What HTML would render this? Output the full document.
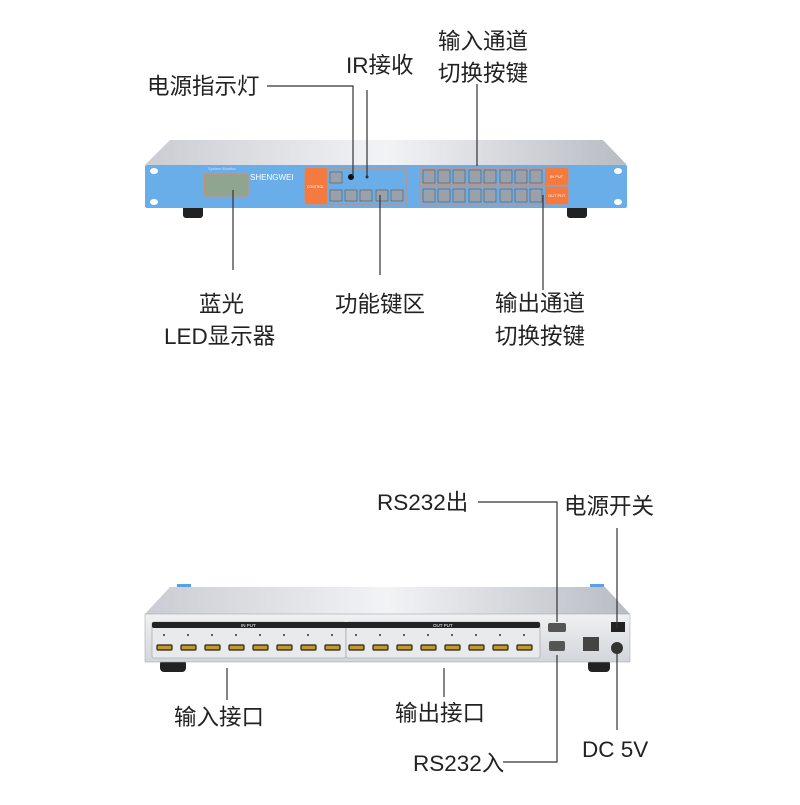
<!DOCTYPE html><html><head><meta charset="utf-8"><style>
html,body{margin:0;padding:0;background:#fff}
svg text{font-family:"Liberation Sans","Noto Sans CJK SC",sans-serif;fill:#222}
</style></head><body>
<svg width="800" height="800" viewBox="0 0 800 800" xmlns="http://www.w3.org/2000/svg">
<defs>
<linearGradient id="top" x1="0" y1="0" x2="1" y2="0"><stop offset="0" stop-color="#c9ccd2"/><stop offset="0.5" stop-color="#f2f3f5"/><stop offset="1" stop-color="#b8bcc3"/></linearGradient>
<linearGradient id="back" x1="0" y1="0" x2="0" y2="1"><stop offset="0" stop-color="#f0f1f3"/><stop offset="1" stop-color="#d2d5da"/></linearGradient>
</defs>
<!-- FRONT -->
<polygon points="170,140 603,140 627,165 145,165" fill="url(#top)"/>
<rect x="183" y="205" width="20" height="13" rx="3" fill="#222"/>
<rect x="567" y="205" width="20" height="13" rx="3" fill="#222"/>
<rect x="145" y="165" width="482" height="43" rx="2" fill="#6aaee9"/>
<ellipse cx="154" cy="171" rx="4" ry="3" fill="#fff"/><ellipse cx="154" cy="202" rx="4" ry="3" fill="#fff"/>
<ellipse cx="618" cy="171" rx="4" ry="3" fill="#fff"/><ellipse cx="618" cy="202" rx="4" ry="3" fill="#fff"/>
<text x="208" y="170" font-size="4" style="fill:#dde">System Monitor</text>
<rect x="204" y="174" width="44" height="22" rx="2" fill="#8fa590" stroke="#e8875a" stroke-width="1"/>
<text x="250" y="180" font-size="8" style="fill:#fff">SHENGWEI</text>
<rect x="305" y="168" width="102" height="36" rx="3" fill="none" stroke="#e8875a"/>
<rect x="305" y="168" width="22" height="36" rx="2" fill="#f57a3f"/>
<text x="307" y="188" font-size="3.5" style="fill:#fff">CONTROL</text>
<g fill="#9aa1aa" stroke="#555" stroke-width="0.6">
<rect x="330" y="172" width="12" height="11"/>
<rect x="330" y="190" width="12" height="11"/><rect x="345" y="190" width="12" height="11"/><rect x="360" y="190" width="12" height="11"/><rect x="376" y="190" width="12" height="11"/><rect x="391" y="190" width="12" height="11"/>
</g>
<circle cx="351" cy="177" r="3" fill="#111"/><circle cx="367" cy="177" r="1.5" fill="#333"/>
<rect x="420" y="168" width="148" height="17" rx="2" fill="none" stroke="#e8875a"/>
<rect x="420" y="187" width="148" height="17" rx="2" fill="none" stroke="#e8875a"/>
<rect x="545" y="168" width="23" height="17" fill="#f57a3f"/><rect x="545" y="187" width="23" height="17" fill="#f57a3f"/>
<text x="550" y="178" font-size="4" style="fill:#fff">IN PUT</text>
<text x="548" y="197" font-size="4" style="fill:#fff">OUT PUT</text>
<g fill="#9aa1aa" stroke="#555" stroke-width="0.6">
<rect x="423" y="170" width="12" height="13"/><rect x="438" y="170" width="12" height="13"/><rect x="453" y="170" width="12" height="13"/><rect x="469" y="170" width="12" height="13"/><rect x="484" y="170" width="12" height="13"/><rect x="500" y="170" width="12" height="13"/><rect x="515" y="170" width="12" height="13"/><rect x="530" y="170" width="12" height="13"/>
<rect x="423" y="189" width="12" height="13"/><rect x="438" y="189" width="12" height="13"/><rect x="453" y="189" width="12" height="13"/><rect x="469" y="189" width="12" height="13"/><rect x="484" y="189" width="12" height="13"/><rect x="500" y="189" width="12" height="13"/><rect x="515" y="189" width="12" height="13"/><rect x="530" y="189" width="12" height="13"/>
</g>
<g stroke="#333" stroke-width="1.2" fill="none">
<polyline points="267,86 353,86 353,176"/>
<line x1="367" y1="90" x2="367" y2="176"/>
<line x1="477" y1="84" x2="477" y2="166"/>
<line x1="233" y1="190" x2="233" y2="270"/>
<line x1="380" y1="195" x2="380" y2="275"/>
<line x1="543" y1="195" x2="543" y2="290"/>
</g>
<g font-size="22.5">
<text x="147" y="94">电源指示灯</text>
<text x="346" y="73">IR接收</text>
<text x="438" y="49">输入通道</text>
<text x="438" y="81">切换按键</text>
<text x="199" y="312">蓝光</text>
<text x="164" y="344">LED显示器</text>
<text x="335" y="312">功能键区</text>
<text x="495" y="311">输出通道</text>
<text x="495" y="344">切换按键</text>
</g>
<!-- BACK -->
<rect x="177" y="584" width="14" height="10" fill="#5aa0e6"/><rect x="590" y="584" width="14" height="10" fill="#5aa0e6"/>
<polygon points="170,587 605,587 630,614 145,614" fill="url(#top)"/>
<rect x="160" y="660" width="26" height="12" rx="4" fill="#222"/>
<rect x="588" y="660" width="22" height="12" rx="4" fill="#222"/>
<rect x="145" y="614" width="485" height="48" fill="url(#back)" stroke="#aaa" stroke-width="0.6"/>
<rect x="152" y="622" width="194" height="36" rx="2" fill="#e9eaec" stroke="#999" stroke-width="0.6"/>
<rect x="346" y="622" width="194" height="36" rx="2" fill="#e9eaec" stroke="#999" stroke-width="0.6"/>
<rect x="152" y="622" width="388" height="6" rx="2" fill="#222"/>
<text x="241" y="627" font-size="4.5" style="fill:#fff">IN PUT</text>
<text x="433" y="627" font-size="4.5" style="fill:#fff">OUT PUT</text>
<g fill="#333">
<circle cx="164" cy="635" r="1"/><circle cx="188" cy="635" r="1"/><circle cx="212" cy="635" r="1"/><circle cx="236" cy="635" r="1"/><circle cx="260" cy="635" r="1"/><circle cx="284" cy="635" r="1"/><circle cx="308" cy="635" r="1"/><circle cx="332" cy="635" r="1"/>
<circle cx="356" cy="635" r="1"/><circle cx="380" cy="635" r="1"/><circle cx="404" cy="635" r="1"/><circle cx="428" cy="635" r="1"/><circle cx="452" cy="635" r="1"/><circle cx="476" cy="635" r="1"/><circle cx="500" cy="635" r="1"/><circle cx="524" cy="635" r="1"/>
</g>
<g fill="#c49a20" stroke="#222" stroke-width="1.2">
<rect x="157" y="645" width="15" height="5" rx="1"/><rect x="181" y="645" width="15" height="5" rx="1"/><rect x="205" y="645" width="15" height="5" rx="1"/><rect x="229" y="645" width="15" height="5" rx="1"/><rect x="253" y="645" width="15" height="5" rx="1"/><rect x="277" y="645" width="15" height="5" rx="1"/><rect x="301" y="645" width="15" height="5" rx="1"/><rect x="325" y="645" width="15" height="5" rx="1"/>
<rect x="349" y="645" width="15" height="5" rx="1"/><rect x="373" y="645" width="15" height="5" rx="1"/><rect x="397" y="645" width="15" height="5" rx="1"/><rect x="421" y="645" width="15" height="5" rx="1"/><rect x="445" y="645" width="15" height="5" rx="1"/><rect x="469" y="645" width="15" height="5" rx="1"/><rect x="493" y="645" width="15" height="5" rx="1"/><rect x="517" y="645" width="15" height="5" rx="1"/>
</g>
<rect x="548" y="623" width="18" height="9" rx="2" fill="#555"/>
<rect x="549" y="641" width="16" height="10" rx="2" fill="#555"/>
<rect x="583" y="637" width="16" height="14" fill="#444"/>
<rect x="611" y="622" width="14" height="10" fill="#222"/>
<circle cx="617" cy="648" r="6" fill="#333"/>
<g stroke="#333" stroke-width="1.2" fill="none">
<polyline points="478,502 557,502 557,622"/>
<line x1="617" y1="528" x2="617" y2="628"/>
<polyline points="503,762 557,762 557,655"/>
<line x1="617" y1="650" x2="617" y2="730"/>
<line x1="227" y1="668" x2="227" y2="700"/>
<line x1="444" y1="668" x2="444" y2="697"/>
</g>
<g font-size="22.5">
<text x="377" y="510">RS232出</text>
<text x="564" y="514">电源开关</text>
<text x="174" y="725">输入接口</text>
<text x="395" y="721">输出接口</text>
<text x="413" y="771">RS232入</text>
<text x="582" y="757">DC 5V</text>
</g>
</svg>
</body></html>
